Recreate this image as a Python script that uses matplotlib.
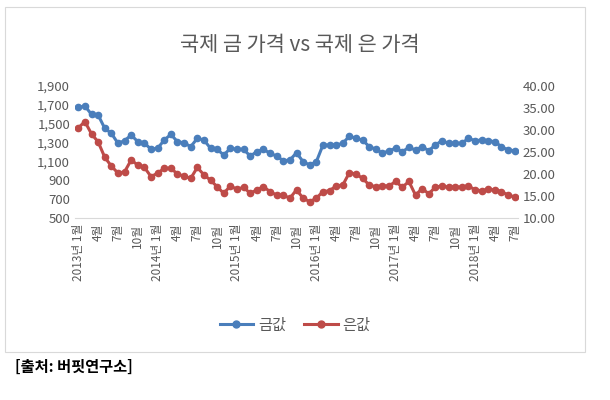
import matplotlib
matplotlib.use("Agg")
import matplotlib.pyplot as plt
from matplotlib import font_manager as fm
from matplotlib.lines import Line2D
from matplotlib.patches import Rectangle

fam = None
for f in fm.fontManager.ttflist:
    if "CJK" in f.name and "KR" in f.name:
        fam = f.name
        break
if fam is None:
    for f in fm.fontManager.ttflist:
        if "CJK" in f.name:
            fam = f.name
            break
if fam is None:
    import glob
    for p in glob.glob("/usr/share/fonts/**/*CJK*", recursive=True):
        try:
            fm.fontManager.addfont(p)
            fam = fm.FontProperties(fname=p).get_name()
            break
        except Exception:
            pass
plt.rcParams["font.family"] = [fam or "Noto Sans CJK KR", "DejaVu Sans"]

gold = [1673,1687,1599,1592,1451,1398,1292,1320,1380,1309,1292,1231,1239,1327,1387,1309,
        1298,1256,1345,1327,1239,1228,1168,1239,1228,1228,1157,1203,1228,1186,1157,1107,
        1115,1192,1097,1062,1097,
        1274,1274,1274,1292,1369,1345,1327,1256,1231,1186,1214,1239,1203,1249,1221,1256,
        1214,1274,1320,1292,1292,1292,1345,1320,1327,1320,1309,1256,1221,1214]
silver = [30.5,31.9,29.1,27.3,23.8,21.8,20.2,20.5,23.2,22.0,21.5,19.4,20.2,21.3,21.3,20.0,
          19.5,19.0,21.5,19.8,18.6,17.1,15.6,17.3,16.5,17.0,15.6,16.4,17.1,16.0,15.2,15.2,
          14.5,16.4,14.5,13.7,14.5,
          16.0,16.2,17.3,17.5,20.3,20.0,19.0,17.5,17.1,17.3,17.3,18.3,17.0,18.3,15.2,16.7,
          15.5,17.0,17.3,17.0,17.1,17.0,17.3,16.4,16.2,16.5,16.4,16.0,15.2,14.8]
years = [2013, 2014, 2015, 2016, 2017, 2018]
tick_months = [1, 4, 7, 10]

labels = []
for i in range(len(gold)):
    y = years[0] + i // 12
    m = i % 12 + 1
    labels.append(f"{y}년 {m}월" if m == 1 else f"{m}월")

fig = plt.figure(figsize=(6.10, 4.00), dpi=100)
fig.patches.append(Rectangle((5/610, 1-352/400), 580/610, 345/400, transform=fig.transFigure,
                             fill=False, edgecolor="#d9d9d9", lw=0.8))
ax = fig.add_axes([75/610, 1-218/400, 443/610, 132/400])
ax2 = ax.twinx()
x = list(range(len(gold)))
blue, red = "#4a7ebb", "#be4b48"
ax.plot(x, gold, color=blue, lw=2.2, marker="o", ms=4.5)
ax2.plot(x, silver, color=red, lw=2.2, marker="o", ms=4.5)
ax.set_ylim(500, 1900)
ax.set_yticks(range(500, 1901, 200))
ax.set_yticklabels([f"{v:,}" for v in range(500, 1901, 200)])
ax2.set_ylim(10, 40)
ax2.set_yticks(range(10, 41, 5))
ax2.set_yticklabels([f"{v:.2f}" for v in range(10, 41, 5)])
ax.set_xlim(-0.5, len(gold) - 0.5)
ticks = [i for i in x if (i % 12 + 1) in tick_months]
ax.set_xticks(ticks)
ax.set_xticklabels([labels[i] for i in ticks], rotation=90, fontsize=8.5, color="#595959")
for a in (ax, ax2):
    for s in a.spines.values():
        s.set_visible(False)
    a.tick_params(length=0, colors="#595959", labelsize=9.5)
ax.spines["bottom"].set_visible(True)
ax.spines["bottom"].set_color("#d9d9d9")
ax.tick_params(axis="x", labelsize=8.5, pad=4)

fig.text(300/610, 1-45/400, "국제 금 가격 vs 국제 은 가격", ha="center", va="center",
         fontsize=15, color="#595959")
handles = [Line2D([], [], color=blue, lw=2.2, marker="o", ms=5),
           Line2D([], [], color=red, lw=2.2, marker="o", ms=5)]
fig.legend(handles, ["금값", "은값"], loc="center", bbox_to_anchor=(295/610, 1-325/400),
           ncol=2, frameon=False, fontsize=11, labelcolor="#595959", handlelength=2.2,
           columnspacing=1.2, handletextpad=0.3)
fig.text(15/610, 1-367/400, "[출처: 버핏연구소]", ha="left", va="center", fontsize=11,
         fontweight="bold", color="black")
fig.savefig("out.png", dpi=100)
